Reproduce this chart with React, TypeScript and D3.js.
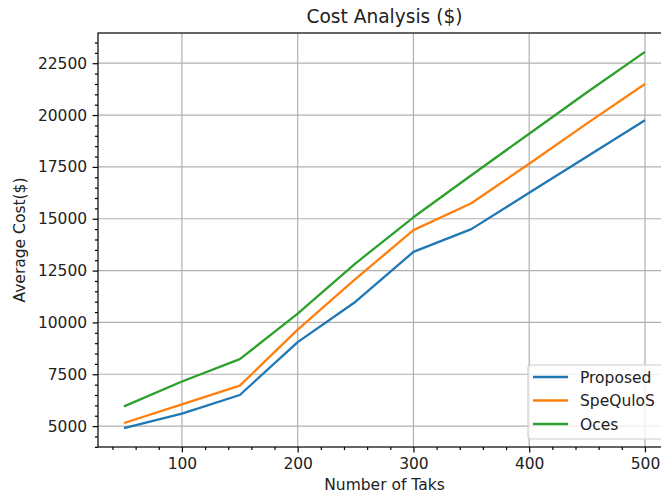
import React, { useRef, useEffect } from "react";
import * as d3 from "d3";

// number of tasks on the x axis
const tasks = [50, 100, 150, 200, 250, 300, 350, 400, 450, 500];
// average cost per approach
const proposed = [4900, 5600, 6500, 9050, 11000, 13400, 14500, 16250, 18000, 19750];
const spequlos = [5150, 6050, 6950, 9650, 12100, 14450, 15750, 17650, 19600, 21500];
const oces = [5950, 7150, 8230, 10420, 12850, 15070, 17100, 19100, 21100, 23050];

const seriesNames = ["Proposed", "SpeQuloS", "Oces"];
const seriesColors = ["#1f77b4", "#ff7f0e", "#2ca02c"];
const xTicks = [100, 200, 300, 400, 500];
const yTicks = [5000, 7500, 10000, 12500, 15000, 17500, 20000, 22500];

const W = 661;
const H = 497;
const FONT = "DejaVu Sans, sans-serif";

function CostChart() {
  const svgRef = useRef<SVGSVGElement>(null);

  useEffect(() => {
    const svg = d3.select(svgRef.current);
    svg.selectAll("*").remove();

    // plot area (right spine falls just outside the picture)
    const left = 98, right = 671, top = 33, bottom = 447;

    // matplotlib style 5% margins
    const xPad = (d3.max(tasks)! - d3.min(tasks)!) * 0.05;
    const x = d3
      .scaleLinear()
      .domain([d3.min(tasks)! - xPad, d3.max(tasks)! + xPad])
      .range([left, right]);
    const allVals = [...proposed, ...spequlos, ...oces];
    const yPad = (d3.max(allVals)! - d3.min(allVals)!) * 0.05;
    const y = d3
      .scaleLinear()
      .domain([d3.min(allVals)! - yPad, d3.max(allVals)! + yPad])
      .range([bottom, top]);

    // grid
    const grid = svg.append("g").attr("stroke", "#b0b0b0").attr("stroke-width", 1.2);
    xTicks.forEach((t) =>
      grid.append("line").attr("x1", x(t)).attr("x2", x(t)).attr("y1", top).attr("y2", bottom)
    );
    yTicks.forEach((t) =>
      grid.append("line").attr("x1", left).attr("x2", right).attr("y1", y(t)).attr("y2", y(t))
    );

    // series lines
    const lineGen = d3
      .line<number>()
      .x((d, i) => x(tasks[i]))
      .y((d) => y(d));
    [proposed, spequlos, oces].forEach((vals, i) => {
      svg
        .append("path")
        .datum(vals)
        .attr("fill", "none")
        .attr("stroke", seriesColors[i])
        .attr("stroke-width", 2.3)
        .attr("stroke-linejoin", "round")
        .attr("d", lineGen);
    });

    // spines
    svg
      .append("rect")
      .attr("x", left)
      .attr("y", top)
      .attr("width", right - left)
      .attr("height", bottom - top)
      .attr("fill", "none")
      .attr("stroke", "black")
      .attr("stroke-width", 1.2);

    // axes with major + minor ticks
    const xMinor = d3.range(40, 521, 20).filter((v) => v % 100 !== 0);
    const yMinor = d3.range(4000, 23501, 500).filter((v) => v % 2500 !== 0);

    const xAxis = svg.append("g").attr("transform", `translate(0,${bottom})`);
    xAxis.call(d3.axisBottom(x).tickValues(xTicks).tickSize(5.4).tickPadding(5.4).tickFormat(d3.format("d")));
    const xAxisMinor = svg.append("g").attr("transform", `translate(0,${bottom})`);
    xAxisMinor.call(d3.axisBottom(x).tickValues(xMinor).tickSize(3.1).tickFormat(() => ""));

    const yAxis = svg.append("g").attr("transform", `translate(${left},0)`);
    yAxis.call(d3.axisLeft(y).tickValues(yTicks).tickSize(5.4).tickPadding(5.4).tickFormat(d3.format("d")));
    const yAxisMinor = svg.append("g").attr("transform", `translate(${left},0)`);
    yAxisMinor.call(d3.axisLeft(y).tickValues(yMinor).tickSize(3.1).tickFormat(() => ""));

    [xAxis, xAxisMinor, yAxis, yAxisMinor].forEach((g) => {
      g.select(".domain").remove();
      g.selectAll("line").attr("stroke", "black").attr("stroke-width", 1.2);
      g.selectAll("text")
        .attr("font-family", FONT)
        .attr("font-size", 15.5)
        .attr("fill", "#222");
    });

    // titles
    svg
      .append("text")
      .attr("x", (left + right) / 2)
      .attr("y", 23)
      .attr("text-anchor", "middle")
      .attr("font-family", FONT)
      .attr("font-size", 18.6)
      .attr("fill", "#222")
      .text("Cost Analysis ($)");
    svg
      .append("text")
      .attr("x", (left + right) / 2)
      .attr("y", 490)
      .attr("text-anchor", "middle")
      .attr("font-family", FONT)
      .attr("font-size", 15.5)
      .attr("fill", "#222")
      .text("Number of Taks");
    svg
      .append("text")
      .attr("transform", `translate(25,${(top + bottom) / 2}) rotate(-90)`)
      .attr("text-anchor", "middle")
      .attr("font-family", FONT)
      .attr("font-size", 15.5)
      .attr("fill", "#222")
      .text("Average Cost($)");

    // legend, lower right
    const lg = svg.append("g").attr("transform", "translate(528,365)");
    lg.append("rect")
      .attr("width", 135)
      .attr("height", 74)
      .attr("rx", 3)
      .attr("fill", "white")
      .attr("fill-opacity", 0.8)
      .attr("stroke", "#cccccc")
      .attr("stroke-width", 1.2);
    seriesNames.forEach((name, i) => {
      const cy = 12 + i * 23.5;
      lg.append("line")
        .attr("x1", 5)
        .attr("x2", 40)
        .attr("y1", cy)
        .attr("y2", cy)
        .attr("stroke", seriesColors[i])
        .attr("stroke-width", 2.3);
      lg.append("text")
        .attr("x", 52)
        .attr("y", cy + 5.5)
        .attr("font-family", FONT)
        .attr("font-size", 15.5)
        .attr("fill", "#222")
        .text(name);
    });
  }, []);

  return (
    <svg
      ref={svgRef}
      width={W}
      height={H}
      style={{ position: "absolute", left: 0, top: 0, background: "white" }}
    />
  );
}

export default function App() {
  return <CostChart />;
}
